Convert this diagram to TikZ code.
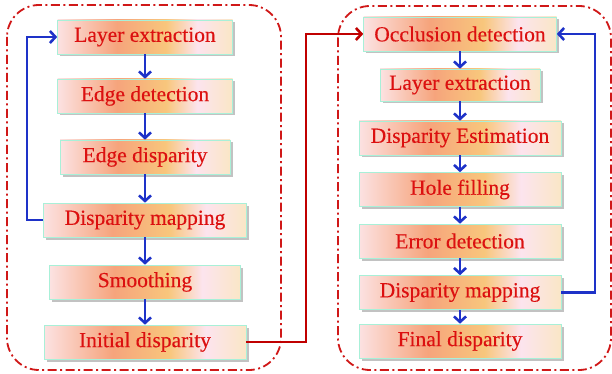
\documentclass[tikz,border=0pt]{standalone}
\usepackage{fontspec}
\setmainfont{Liberation Serif}
\newfontfamily\boxfont[FakeBold=0.3]{Liberation Serif}
\usetikzlibrary{arrows.meta,shadows}
\definecolor{txtred}{HTML}{DC1010}
\definecolor{framered}{HTML}{D01818}
\definecolor{linkred}{HTML}{C00000}
\definecolor{loopblue}{HTML}{1E32C8}
\definecolor{boxedge}{HTML}{A8F0D8}
\definecolor{bpink}{HTML}{FCE2E2}
\definecolor{bsalmon}{HTML}{F6A47C}
\definecolor{borange}{HTML}{F8C67C}
\definecolor{bpinkb}{HTML}{FCE4EE}
\definecolor{bcream}{HTML}{FAE6C6}
\pgfdeclarehorizontalshading{boxshade}{100bp}{color(0bp)=(bpink); color(25bp)=(bpink); color(42bp)=(bsalmon); color(56bp)=(borange); color(65bp)=(bpinkb); color(75bp)=(bcream); color(100bp)=(bcream)}
\tikzset{
  stepbox/.style={draw=boxedge, line width=0.6pt, shade, shading=boxshade,
    minimum height=34pt, inner sep=0pt, text=txtred,
    font=\boxfont\fontsize{21.5}{21.5}\selectfont,
    drop shadow={shadow xshift=2.5pt, shadow yshift=-2.5pt, fill=black!40, opacity=0.6}},
  frame/.style={draw=framered, line width=1.8pt, rounded corners=32pt,
    dash pattern=on 9pt off 3.5pt on 2pt off 3.5pt},
  bluearrow/.style={draw=loopblue, line width=2.6pt, -{Straight Barb[length=5.5pt,width=12pt]}},
  redarrow/.style={draw=linkred, line width=2.6pt, -{Straight Barb[length=5.5pt,width=12pt]}},
}
\begin{document}
\begin{tikzpicture}[x=1pt,y=-1pt]
\useasboundingbox (0,0) rectangle (612,374);
\draw[frame] (7,5) rectangle (281,370);
\draw[frame] (338,6) rectangle (611,370);
% left column
\node[stepbox, minimum width=175pt] (le1) at (145,37) {Layer extraction};
\node[stepbox, minimum width=175pt] (ed) at (145,96) {Edge detection};
\node[stepbox, minimum width=170pt] (edisp) at (145,157) {Edge disparity};
\node[stepbox, minimum width=203pt] (dmap1) at (145,220) {Disparity mapping};
\node[stepbox, minimum width=191pt] (smooth) at (145,282) {Smoothing};
\node[stepbox, minimum width=202pt] (init) at (145,342) {Initial disparity};
% right column
\node[stepbox, minimum width=193pt] (occ) at (460,34) {Occlusion detection};
\node[stepbox, minimum width=160pt, minimum height=32pt] (le2) at (460,85) {Layer extraction};
\node[stepbox, minimum width=202pt] (de) at (460,138) {Disparity Estimation};
\node[stepbox, minimum width=202pt] (hole) at (460,189.5) {Hole filling};
\node[stepbox, minimum width=202pt] (err) at (460,241) {Error detection};
\node[stepbox, minimum width=202pt] (dmap2) at (460,292.5) {Disparity mapping};
\node[stepbox, minimum width=202pt] (final) at (460,341) {Final disparity};
% vertical arrows
\draw[bluearrow] (le1) -- (ed);
\draw[bluearrow] (ed) -- (edisp);
\draw[bluearrow] (edisp) -- (dmap1);
\draw[bluearrow] (dmap1) -- (smooth);
\draw[bluearrow] (smooth) -- (init);
\draw[bluearrow] (occ) -- (le2);
\draw[bluearrow] (le2) -- (de);
\draw[bluearrow] (de) -- (hole);
\draw[bluearrow] (hole) -- (err);
\draw[bluearrow] (err) -- (dmap2);
\draw[bluearrow] (dmap2) -- (final);
% loops
\coordinate (lloop) at (27,0);
\coordinate (rloop) at (595,0);
\coordinate (link) at (306,0);
\draw[bluearrow] (dmap1.west) -- (dmap1.west -| lloop) -- (le1.west -| lloop) -- (le1.west);
\draw[bluearrow] (dmap2.east) -- (dmap2.east -| rloop) -- (occ.east -| rloop) -- (occ.east);
\draw[redarrow] (init.east) -- (init.east -| link) -- (occ.west -| link) -- (occ.west);
\end{tikzpicture}
\end{document}
